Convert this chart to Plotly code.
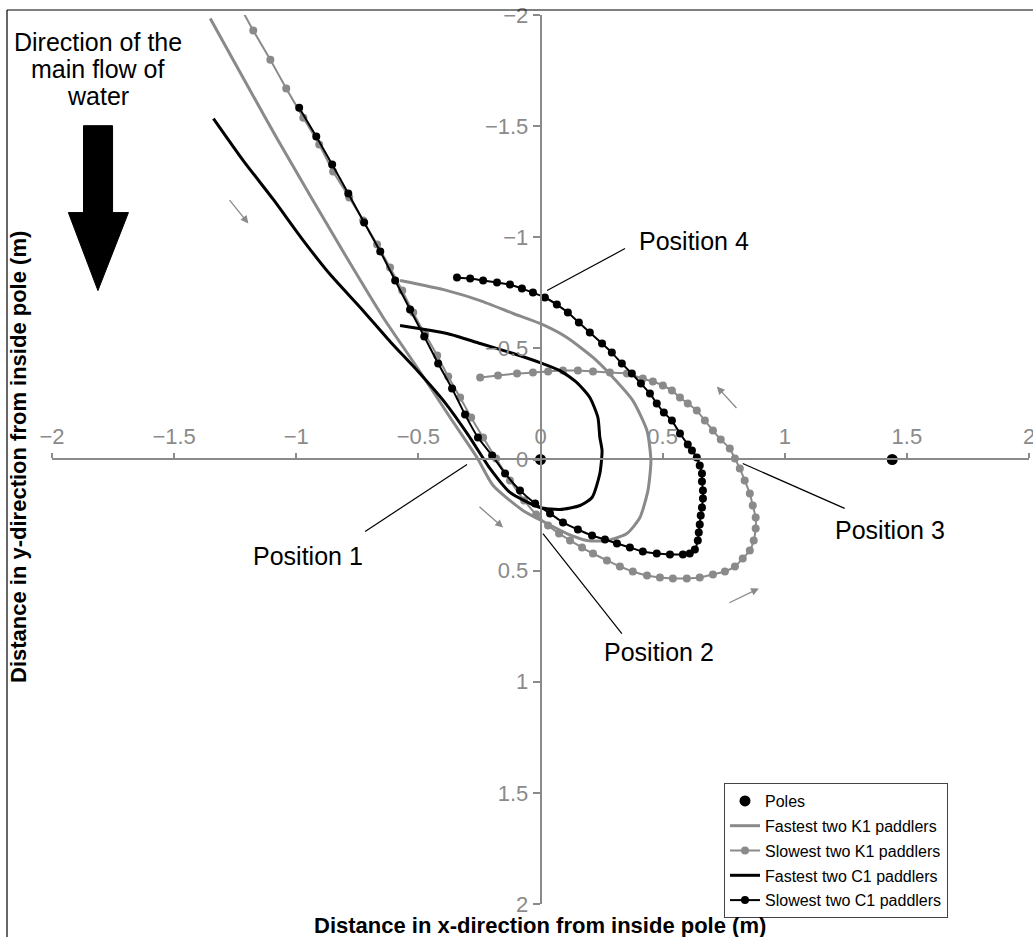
import plotly.graph_objects as go

# ---------------- data (metres) ----------------
poles_x = [0.0, 1.44]
poles_y = [0.0, 0.0]

fast_k1_x = [-1.352, -1.074, -0.791, -0.644, -0.505, -0.370, -0.260, -0.194, -0.072, 0.027, 0.108, 0.190,
             0.272, 0.354, 0.407, 0.440, 0.452, 0.436, 0.378, 0.297, 0.215, 0.108, -0.002, -0.112, -0.247,
             -0.382, -0.575]
fast_k1_y = [-1.984, -1.435, -0.904, -0.639, -0.414, -0.189, -0.009, 0.117, 0.229, 0.288, 0.333, 0.364,
             0.364, 0.333, 0.261, 0.139, 0.004, -0.130, -0.265, -0.369, -0.459, -0.549, -0.612, -0.657, -0.715,
             -0.760, -0.805]

slow_k1_x = [-1.221, -1.176, -1.106, -1.041, -0.971, -0.906, -0.849, -0.783, -0.726, -0.669, -0.616, -0.566,
             -0.521, -0.472, -0.423, -0.378, -0.329, -0.284, -0.235, -0.182, -0.125, -0.067, -0.018, 0.031,
             0.076, 0.121, 0.170, 0.215, 0.272, 0.325, 0.378, 0.436, 0.489, 0.542, 0.599, 0.652, 0.706, 0.755,
             0.796, 0.828, 0.857, 0.873, 0.881, 0.881, 0.869, 0.857, 0.836, 0.816, 0.796, 0.775, 0.738, 0.706,
             0.673, 0.640, 0.603, 0.571, 0.538, 0.501, 0.460, 0.419, 0.354, 0.284, 0.215, 0.153, 0.092, 0.031,
             -0.031, -0.096, -0.174, -0.247]
slow_k1_y = [-2.020, -1.930, -1.799, -1.669, -1.538, -1.417, -1.296, -1.179, -1.075, -0.967, -0.864, -0.760,
             -0.661, -0.562, -0.468, -0.373, -0.279, -0.189, -0.099, -0.004, 0.094, 0.184, 0.247, 0.297,
             0.333, 0.364, 0.396, 0.423, 0.454, 0.481, 0.504, 0.522, 0.531, 0.535, 0.535, 0.531, 0.517, 0.504,
             0.481, 0.445, 0.409, 0.364, 0.310, 0.261, 0.207, 0.153, 0.094, 0.040, -0.004, -0.049, -0.090, -0.130,
             -0.175, -0.220, -0.252, -0.279, -0.310, -0.333, -0.351, -0.364, -0.387, -0.391, -0.396, -0.400, -0.400, -0.396,
             -0.391, -0.387, -0.378, -0.369]

fast_c1_x = [-1.339, -1.217, -1.094, -0.971, -0.861, -0.738, -0.616, -0.501, -0.391, -0.297, -0.207, -0.125,
             -0.002, 0.080, 0.162, 0.211, 0.243, 0.252, 0.243, 0.235, 0.202, 0.149, 0.080, -0.002, -0.112,
             -0.247, -0.382, -0.575]
fast_c1_y = [-1.534, -1.345, -1.170, -0.985, -0.832, -0.684, -0.531, -0.396, -0.256, -0.112, 0.040, 0.148,
             0.216, 0.225, 0.207, 0.171, 0.063, -0.040, -0.099, -0.189, -0.279, -0.346, -0.400, -0.436, -0.477,
             -0.522, -0.567, -0.603]

slow_c1_x = [-0.988, -0.918, -0.853, -0.787, -0.722, -0.656, -0.595, -0.534, -0.476, -0.419, -0.362, -0.309,
             -0.256, -0.198, -0.145, -0.084, -0.022, 0.039, 0.092, 0.153, 0.211, 0.264, 0.313, 0.366, 0.419,
             0.476, 0.530, 0.583, 0.611, 0.632, 0.644, 0.648, 0.652, 0.656, 0.661, 0.665, 0.665, 0.661, 0.661,
             0.652, 0.640, 0.620, 0.603, 0.571, 0.538, 0.505, 0.476, 0.448, 0.411, 0.374, 0.333, 0.292, 0.252,
             0.202, 0.157, 0.112, 0.067, 0.018, -0.031, -0.076, -0.125, -0.178, -0.235, -0.288, -0.342]
slow_c1_y = [-1.583, -1.453, -1.327, -1.197, -1.066, -0.936, -0.805, -0.675, -0.553, -0.432, -0.319, -0.202,
             -0.099, -0.018, 0.063, 0.139, 0.198, 0.243, 0.283, 0.315, 0.342, 0.360, 0.378, 0.396, 0.414,
             0.423, 0.427, 0.427, 0.423, 0.405, 0.364, 0.328, 0.292, 0.252, 0.216, 0.175, 0.139, 0.099, 0.063,
             0.027, -0.009, -0.040, -0.067, -0.117, -0.175, -0.211, -0.252, -0.297, -0.342, -0.387, -0.432, -0.481, -0.522,
             -0.571, -0.616, -0.661, -0.697, -0.729, -0.751, -0.769, -0.787, -0.796, -0.805, -0.814, -0.819]

tick_vals = [-2, -1.5, -1, -0.5, 0, 0.5, 1, 1.5, 2]

GRAY = "#8a8a8a"
FONT = "Liberation Sans, Arial, sans-serif"

fig = go.Figure()

fig.add_trace(go.Scatter(x=fast_k1_x, y=fast_k1_y, mode="lines", name="Fastest two K1 paddlers",
                         line=dict(color=GRAY, width=3, shape="spline", smoothing=0.6),
                         legendrank=2, legendgroup="b"))
fig.add_trace(go.Scatter(x=slow_k1_x, y=slow_k1_y, mode="lines+markers", name="Slowest two K1 paddlers",
                         line=dict(color=GRAY, width=2, shape="spline", smoothing=0.5),
                         marker=dict(color=GRAY, size=8), legendrank=3, legendgroup="c"))
fig.add_trace(go.Scatter(x=fast_c1_x, y=fast_c1_y, mode="lines", name="Fastest two C1 paddlers",
                         line=dict(color="black", width=3, shape="spline", smoothing=0.6),
                         legendrank=4, legendgroup="d"))
fig.add_trace(go.Scatter(x=slow_c1_x, y=slow_c1_y, mode="lines+markers", name="Slowest two C1 paddlers",
                         line=dict(color="black", width=2, shape="spline", smoothing=0.5),
                         marker=dict(color="black", size=8), legendrank=5, legendgroup="e"))
fig.add_trace(go.Scatter(x=poles_x, y=poles_y, mode="markers", name="Poles",
                         marker=dict(color="black", size=11), legendrank=1, legendgroup="a"))

W, H = 1033, 937
L, R, T, B = 52, 4, 15, 33


def px(xp):
    return (xp - L) / (W - L - R)


def py(yp):
    return (H - B - yp) / (H - T - B)


axis_common = dict(showgrid=False, zeroline=False, showline=True, linecolor=GRAY, linewidth=1.5,
                   ticks="outside", tickcolor=GRAY, tickwidth=1.5, tickvals=tick_vals,
                   tickfont=dict(family=FONT, size=22, color=GRAY), anchor="free", position=0.5,
                   ticklabeloverflow="allow", automargin=False)

fig.update_layout(
    width=W, height=H,
    margin=dict(l=L, r=R, t=T, b=B, autoexpand=False),
    paper_bgcolor="white", plot_bgcolor="white",
    xaxis=dict(range=[-2, 2], side="top", ticklen=5, **axis_common),
    yaxis=dict(range=[2, -2], side="left", ticklen=7, **axis_common),
    showlegend=True,
    legend=dict(x=px(724), y=py(783), xanchor="left", yanchor="top",
                bgcolor="white", bordercolor="#444", borderwidth=1,
                font=dict(family=FONT, size=16, color="black"), tracegroupgap=1),
    font=dict(family=FONT),
)
fig.update_xaxes(position=py(459))
fig.update_yaxes(position=px(540.5))

# outer frame
fig.add_shape(type="line", xref="paper", yref="paper", x0=px(7), x1=px(1040), y0=py(10), y1=py(10),
              line=dict(color="black", width=1.2))
fig.add_shape(type="line", xref="paper", yref="paper", x0=px(7), x1=px(7), y0=py(10), y1=py(945),
              line=dict(color="black", width=1.2))

# big flow arrow
fig.add_shape(type="path", xref="x", yref="y",
              path="M -1.871,-1.502 L -1.752,-1.502 L -1.752,-1.111 L -1.687,-1.111 L -1.812,-0.760 "
                   "L -1.933,-1.111 L -1.871,-1.111 Z",
              fillcolor="black", line=dict(color="black", width=1))

# pointer lines for positions
pointers = [(-0.718, 0.324, -0.301, 0.022), (0.010, 0.333, 0.333, 0.783),
            (0.828, 0.018, 1.245, 0.220), (0.027, -0.760, 0.346, -0.949)]
for x0, y0, x1, y1 in pointers:
    fig.add_shape(type="line", xref="x", yref="y", x0=x0, y0=y0, x1=x1, y1=y1,
                  line=dict(color="black", width=1.2))

ann = []
for txt, x, y in [("Position 1", -0.951, 0.436), ("Position 2", 0.485, 0.868),
                  ("Position 3", 1.429, 0.319), ("Position 4", 0.628, -0.985)]:
    ann.append(dict(text=txt, x=x, y=y, xref="x", yref="y", showarrow=False,
                    font=dict(family=FONT, size=25, color="black")))

for txt, yp in [("Direction of the", 42), ("main flow of", 69), ("water", 96)]:
    ann.append(dict(text=txt, x=px(97.5), y=py(yp), xref="paper", yref="paper", showarrow=False,
                    xanchor="center", yanchor="middle", font=dict(family=FONT, size=25, color="black")))

# small direction arrows
for hx, hy, tx, ty in [(-1.196, -1.062, -1.278, -1.174), (-0.153, 0.306, -0.256, 0.207),
                       (0.722, -0.328, 0.808, -0.225), (0.894, 0.580, 0.767, 0.648)]:
    ann.append(dict(x=hx, y=hy, ax=tx, ay=ty, xref="x", yref="y", axref="x", ayref="y", text="",
                    showarrow=True, arrowhead=2, arrowsize=1.2, arrowwidth=1.3, arrowcolor=GRAY))

ann.append(dict(text="<b>Distance in x-direction from inside pole (m)</b>", x=px(540), y=py(925),
                xref="paper", yref="paper", showarrow=False, xanchor="center", yanchor="middle",
                font=dict(family=FONT, size=22, color="black")))
ann.append(dict(text="<b>Distance in y-direction from inside pole (m)</b>", x=px(18), y=py(457),
                xref="paper", yref="paper", showarrow=False, xanchor="center", yanchor="middle",
                textangle=-90, font=dict(family=FONT, size=22, color="black")))

fig.update_layout(annotations=ann)

fig.write_html("out.html", config={"displayModeBar": False},
               post_script="document.body.style.margin='0';document.body.style.overflow='hidden';")
